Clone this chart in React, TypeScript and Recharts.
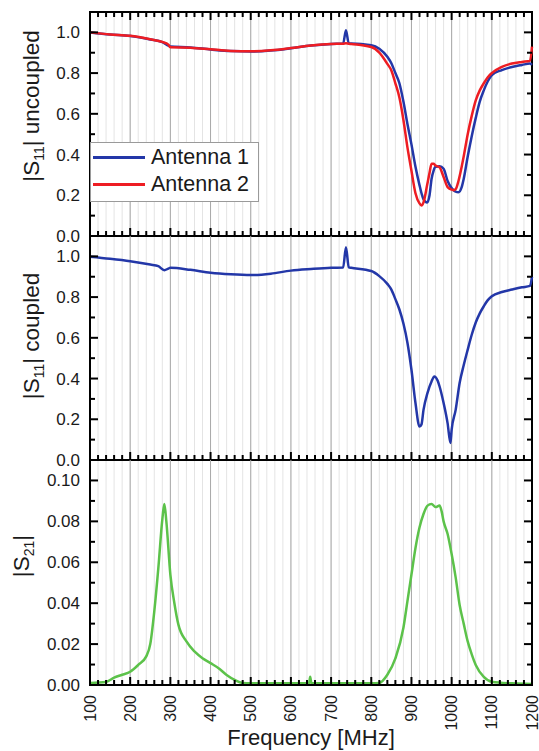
import React from "react";
import { LineChart, Line, XAxis, YAxis, CartesianGrid, ReferenceLine, ReferenceArea } from "recharts";

const FONT = "'Liberation Sans', Arial, Helvetica, sans-serif";

// |S11| uncoupled, both antennas
const freqTop = [100, 150, 200, 250, 280, 295, 300, 350, 400, 450, 500, 550, 600, 650, 700, 730, 737, 744, 750, 800, 820, 840, 850, 860, 870, 880, 890, 900, 910, 920, 925, 930, 939, 945, 950, 955, 960, 970, 980, 990, 1000, 1005, 1010, 1017, 1025, 1030, 1040, 1050, 1060, 1070, 1080, 1090, 1100, 1125, 1150, 1175, 1195, 1200];
const antenna1 = [1.0, 0.99, 0.982, 0.965, 0.952, 0.935, 0.93, 0.926, 0.916, 0.908, 0.906, 0.911, 0.922, 0.935, 0.943, 0.945, 1.01, 0.945, 0.945, 0.937, 0.92, 0.88, 0.848, 0.8, 0.75, 0.66, 0.55, 0.45, 0.34, 0.25, 0.21, 0.18, 0.165, 0.2, 0.28, 0.32, 0.34, 0.342, 0.33, 0.27, 0.235, 0.225, 0.218, 0.215, 0.24, 0.28, 0.39, 0.49, 0.58, 0.66, 0.715, 0.76, 0.79, 0.815, 0.83, 0.84, 0.847, 0.84];
const antenna2 = [1.0, 0.99, 0.983, 0.966, 0.953, 0.94, 0.927, 0.925, 0.917, 0.909, 0.907, 0.912, 0.923, 0.936, 0.943, 0.944, 0.946, 0.944, 0.943, 0.928, 0.9, 0.845, 0.813, 0.75, 0.68, 0.57, 0.435, 0.32, 0.21, 0.16, 0.15, 0.165, 0.25, 0.31, 0.355, 0.355, 0.346, 0.337, 0.29, 0.24, 0.228, 0.225, 0.23, 0.27, 0.34, 0.39, 0.5, 0.59, 0.666, 0.715, 0.75, 0.78, 0.8, 0.83, 0.847, 0.855, 0.86, 0.93];

// |S11| coupled
const freqMid = [100, 150, 200, 250, 270, 285, 295, 300, 350, 400, 450, 500, 550, 600, 650, 700, 730, 737, 744, 750, 800, 820, 840, 850, 860, 870, 880, 890, 900, 910, 920, 925, 930, 940, 950, 957, 965, 970, 980, 990, 997, 1000, 1010, 1020, 1030, 1040, 1050, 1060, 1070, 1080, 1090, 1100, 1125, 1150, 1175, 1195, 1200];
const coupled = [0.998, 0.988, 0.976, 0.96, 0.952, 0.932, 0.94, 0.944, 0.934, 0.92, 0.912, 0.908, 0.915, 0.93, 0.938, 0.944, 0.945, 1.045, 0.946, 0.944, 0.928, 0.903, 0.865, 0.837, 0.79, 0.739, 0.67, 0.576, 0.443, 0.28, 0.164, 0.175, 0.246, 0.33, 0.386, 0.41, 0.39, 0.361, 0.28, 0.18, 0.083, 0.148, 0.246, 0.379, 0.465, 0.542, 0.615, 0.675, 0.72, 0.755, 0.785, 0.804, 0.825, 0.837, 0.848, 0.855, 0.9];

// |S21|
const freqS21 = [100, 140, 160, 180, 200, 220, 240, 250, 260, 270, 280, 285, 290, 300, 310, 320, 340, 360, 380, 400, 420, 440, 460, 480, 500, 600, 645, 648, 651, 700, 800, 820, 840, 860, 880, 890, 900, 910, 920, 930, 940, 950, 960, 970, 975, 980, 990, 1000, 1010, 1020, 1030, 1040, 1050, 1060, 1080, 1100, 1150, 1200];
const s21 = [0.001, 0.0015, 0.0036, 0.005, 0.0065, 0.0098, 0.014, 0.02, 0.036, 0.057, 0.081, 0.0885, 0.08, 0.054, 0.04, 0.0295, 0.0213, 0.0164, 0.0131, 0.0107, 0.0082, 0.0049, 0.0025, 0.001, 0.0008, 0.0008, 0.0008, 0.004, 0.0008, 0.0008, 0.0008, 0.001, 0.005, 0.013, 0.028, 0.041, 0.054, 0.067, 0.077, 0.0836, 0.0877, 0.0885, 0.087, 0.0877, 0.085, 0.08, 0.0738, 0.064, 0.0526, 0.039, 0.03, 0.0213, 0.015, 0.0098, 0.004, 0.0016, 0.0008, 0.0005];

const xMajor = [100, 200, 300, 400, 500, 600, 700, 800, 900, 1000, 1100, 1200];
const xTicks = xMajor.flatMap((v, i) => (i < xMajor.length - 1 ? [v, v + 20, v + 40, v + 60, v + 80] : [v]));
const s11Ticks = [0, 0.1, 0.2, 0.3, 0.4, 0.5, 0.6, 0.7, 0.8, 0.9, 1.0];
const s21Ticks = [0, 0.01, 0.02, 0.03, 0.04, 0.05, 0.06, 0.07, 0.08, 0.09, 0.1];

const topData = freqTop.map((f, i) => ({ f, a1: antenna1[i], a2: antenna2[i] }));
const midData = freqMid.map((f, i) => ({ f, c: coupled[i] }));
const botData = freqS21.map((f, i) => ({ f, s: s21[i] }));

const BLUE = "#2337a8";
const RED = "#ee1d23";
const GREEN = "#5cc24a";
const INK = "#000";
const PLOT_W = 442;

// bottom ticks pointing into the plot
const XTickPlain = (p: any) => {
  const major = p.payload.value % 100 === 0;
  return <path d={`M${p.x},${p.y}V${p.y - (major ? 8 : 5)}`} stroke={INK} strokeWidth={2} fill="none" />;
};

const XTickLabeled = (p: any) => {
  const v = p.payload.value;
  const major = v % 100 === 0;
  return (
    <g>
      <path d={`M${p.x},${p.y}V${p.y - (major ? 8 : 5)}`} stroke={INK} strokeWidth={2} fill="none" />
      {major && (
        <text transform={`translate(${p.x + 5.5},${p.y + 10}) rotate(-90)`} textAnchor="end" fontSize={16} fill="#1a1a1a" fontFamily={FONT}>
          {v}
        </text>
      )}
    </g>
  );
};

const yTitle = (sub: string, rest: string, cx: number, cy: number) => () => (
  <text x={cx} y={cy} transform={`rotate(-90 ${cx} ${cy})`} textAnchor="middle" fontSize={22.5} fill="#1a1a1a" fontFamily={FONT}>
    |S
    <tspan fontSize={14} dy={5}>{sub}</tspan>
    <tspan dy={-5}>|{rest}</tspan>
  </text>
);

const freqTitle = (p: any) => {
  const vb = p.viewBox;
  return (
    <text x={vb.x + vb.width / 2} y={vb.y + 60} textAnchor="middle" fontSize={22} fill="#1a1a1a" fontFamily={FONT}>
      Frequency [MHz]
    </text>
  );
};

type Series = { key: string; color: string };

function Panel(props: {
  top: number;
  height: number;
  mTop: number;
  xAxisH: number;
  data: any[];
  series: Series[];
  yTicks: number[];
  yMax: number;
  digits: number;
  unit: number;
  topTicks?: boolean;
  xLabels?: boolean;
  title: any;
}) {
  const plotH = props.height - props.mTop - props.xAxisH;
  const dy = props.yMax / plotH;
  const dx = 1100 / PLOT_W;
  const isMajorY = (v: number) => Math.round(v * props.unit) % 2 === 0;

  const marks: React.ReactNode[] = [];
  if (props.topTicks) {
    xTicks.forEach((v) => {
      const L = (v % 100 === 0 ? 8 : 5) * dy;
      marks.push(<ReferenceLine key={`t${v}`} segment={[{ x: v, y: props.yMax }, { x: v, y: props.yMax - L }]} stroke={INK} strokeWidth={2} ifOverflow="visible" />);
    });
  }
  props.yTicks.forEach((v) => {
    const L = (isMajorY(v) ? 8 : 5) * dx;
    marks.push(<ReferenceLine key={`l${v}`} segment={[{ x: 100, y: v }, { x: 100 + L, y: v }]} stroke={INK} strokeWidth={2} ifOverflow="visible" />);
    marks.push(<ReferenceLine key={`r${v}`} segment={[{ x: 1200, y: v }, { x: 1200 - L, y: v }]} stroke={INK} strokeWidth={2} ifOverflow="visible" />);
  });

  const xLabelProps = props.xLabels ? { label: freqTitle } : {};

  return (
    <div style={{ position: "absolute", left: 0, top: props.top }}>
      <LineChart width={539} height={props.height} data={props.data} margin={{ top: props.mTop, right: 7, bottom: 0, left: 0 }}>
        <CartesianGrid horizontal={false} stroke="#e4e4e4" strokeWidth={1} />
        {xMajor.slice(1, -1).map((v) => (
          <ReferenceLine key={v} x={v} stroke="#a9a9a9" strokeWidth={1} />
        ))}
        <XAxis
          dataKey="f"
          type="number"
          domain={[100, 1200]}
          ticks={xTicks}
          interval={0}
          height={props.xAxisH}
          tickSize={0}
          tickMargin={0}
          tickLine={false}
          axisLine={{ stroke: INK, strokeWidth: 2 }}
          tick={props.xLabels ? <XTickLabeled /> : <XTickPlain />}
          {...xLabelProps}
        />
        <YAxis
          type="number"
          domain={[0, props.yMax]}
          ticks={props.yTicks}
          interval={0}
          width={90}
          tickSize={0}
          tickMargin={10}
          tickLine={false}
          axisLine={{ stroke: INK, strokeWidth: 2 }}
          tick={{ fontSize: 17, fill: "#1a1a1a", fontFamily: FONT }}
          tickFormatter={(v: number) => (isMajorY(v) ? v.toFixed(props.digits) : "")}
          label={props.title}
        />
        {props.series.map((s) => (
          <Line key={s.key} dataKey={s.key} type="monotone" stroke={s.color} strokeWidth={2.5} dot={false} isAnimationActive={false} />
        ))}
        {marks}
        <ReferenceArea x1={100} x2={1200} y1={0} y2={props.yMax} fill="none" fillOpacity={0} stroke={INK} strokeWidth={2} />
      </LineChart>
    </div>
  );
}

export default function App() {
  return (
    <div style={{ position: "absolute", left: 0, top: 0, width: 539, height: 751, background: "#fff", fontFamily: FONT }}>
      <Panel
        top={0}
        height={246}
        mTop={12}
        xAxisH={10}
        data={topData}
        series={[
          { key: "a1", color: BLUE },
          { key: "a2", color: RED },
        ]}
        yTicks={s11Ticks}
        yMax={1.1}
        digits={1}
        unit={10}
        topTicks
        title={yTitle("11", " uncoupled", 38.5, 106)}
      />
      <Panel
        top={226}
        height={244}
        mTop={10}
        xAxisH={10}
        data={midData}
        series={[{ key: "c", color: BLUE }]}
        yTicks={s11Ticks}
        yMax={1.1}
        digits={1}
        unit={10}
        title={yTitle("11", " coupled", 38.5, 110)}
      />
      <Panel
        top={450}
        height={301}
        mTop={10}
        xAxisH={66}
        data={botData}
        series={[{ key: "s", color: GREEN }]}
        yTicks={s21Ticks}
        yMax={0.11}
        digits={2}
        unit={100}
        xLabels
        title={yTitle("21", "", 29, 106)}
      />
      <div
        style={{
          position: "absolute",
          left: 90,
          top: 142,
          width: 169,
          height: 60,
          boxSizing: "border-box",
          border: "1px solid #9a9a9a",
          background: "#fff",
          paddingTop: 1,
        }}
      >
        {[
          { name: "Antenna 1", color: BLUE },
          { name: "Antenna 2", color: RED },
        ].map((it) => (
          <div key={it.name} style={{ display: "flex", alignItems: "center", height: 27 }}>
            <div style={{ width: 52, height: 3, background: it.color, marginLeft: 2, marginRight: 6 }} />
            <span style={{ fontSize: 21.5, lineHeight: "27px", color: "#1a1a1a" }}>{it.name}</span>
          </div>
        ))}
      </div>
    </div>
  );
}
